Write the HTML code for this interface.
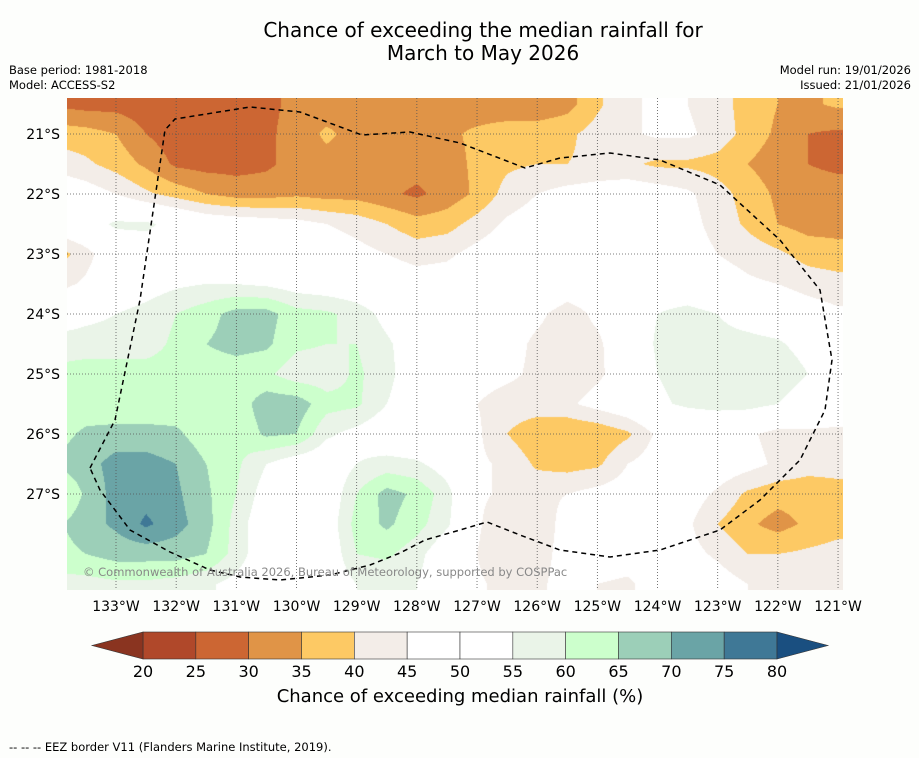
<!DOCTYPE html>
<html><head><meta charset="utf-8">
<style>
html,body{margin:0;padding:0;background:#fdfefc;}
body{width:919px;height:758px;position:relative;overflow:hidden;font-family:"DejaVu Sans","Liberation Sans",sans-serif;color:#000;}
.t{position:absolute;white-space:nowrap;}
</style></head>
<body>
<div class="t" style="left:0;width:966px;top:19px;text-align:center;font-size:20px;line-height:23px;">Chance of exceeding the median rainfall for<br>March to May 2026</div>
<div class="t" style="left:9px;top:63px;font-size:11.5px;line-height:15px;">Base period: 1981-2018<br>Model: ACCESS-S2</div>
<div class="t" style="right:8px;top:63px;font-size:11.5px;line-height:15px;text-align:right;">Model run: 19/01/2026<br>Issued: 21/01/2026</div>
<canvas id="map" width="776" height="492" style="position:absolute;left:67px;top:98px;"></canvas>
<svg id="ov" width="919" height="758" style="position:absolute;left:0;top:0;"></svg>
<div class="t" style="left:83px;top:565px;font-size:11.5px;color:#888;">© Commonwealth of Australia 2026, Bureau of Meteorology, supported by COSPPac</div>
<div class="t" style="left:0;width:920px;top:686px;text-align:center;font-size:18px;">Chance of exceeding median rainfall (%)</div>
<div class="t" style="left:9px;top:740px;font-size:11.5px;">--  --  -- EEZ border V11 (Flanders Marine Institute, 2019).</div>
<script>
const levels=[20,25,30,35,40,45,50,55,60,65,70,75,80];
const binColors=["#b0482a","#cc6633","#e09447","#fdc964","#f3ede8","#ffffff","#ffffff","#eaf4e8","#ccffcc","#9ccfb8","#6aa4a6","#3f7896"];
const underColor="#8a3420", overColor="#1a4f80";
const lonTicks=[133,132,131,130,129,128,127,126,125,124,123,122,121];
const latTicks=[21,22,23,24,25,26,27];
// grid: lon 134W..121W step 0.5 ; lat 20.5S..28.5S step 0.5
const gridLons=[134,133.5,133,132.5,132,131.5,131,130.5,130,129.5,129,128.5,128,127.5,127,126.5,126,125.5,125,124.5,124,123.5,123,122.5,122,121.5,121];
const gridLats=[20.5,21,21.5,22,22.5,23,23.5,24,24.5,25,25.5,26,26.5,27,27.5,28,28.5];
const r205=[29,28,28,27,26,26,27,29,31,32,33,33,33,33,32,31,31,33,39,44,46,45,42,38,35,34,36];
const r21=[38,37,35,30,27,26,27,29,32,36,33,33,33,34,36,38,38,39,42,44,46,46,43,38,34,30,29];
const r215=[43,41,38,34,29,28,28,29,32,33,33,33,32,33,36,39,40,40,41,41,39,39,38,35,32,30,29];
const r22=[50,48,45,41,38,35,33,33,34,33,33,31,29,32,36,42,45,47,48,49,48,46,42,38,34,32,32];
const r225=[50,52,56,56,53,50,49,48,47,45,43,40,37,38,42,46,48,49,50,50,49,47,43,39,35,33,33];
const r23=[37,43,50,52,53,52,51,50,50,49,47,45,43,44,47,49,50,50,50,50,50,48,45,43,41,38,37];
const r235=[43,46,50,52,54,55,55,54,52,51,50,49,48,48,49,50,50,48,48,50,51,50,48,46,45,43,42];
const r24=[50,53,55,57,60,63,67,67,62,61,58,53,50,49,49,48,46,43,46,50,55,57,55,52,50,48,46];
const r245=[58,58,58,58,61,65,67,66,61,60,60,56,51,49,48,47,44,43,44,49,56,57,57,57,56,52,50];
const r25=[61,62,62,62,62,62,62,61,57,57,61,57,50,48,47,46,44,42,44,48,55,57,57,58,60,55,50];
const r255=[62,62,61,61,62,62,62,68,68,62,61,55,50,47,45,43,43,44,47,50,54,56,57,57,55,50,48];
const r26=[63,66,67,67,66,62,61,66,65,56,53,50,49,48,46,40,36,35,36,39,46,48,48,46,43,44,44];
const r265=[66,68,72,72,70,65,61,55,51,50,55,57,56,52,46,44,39,38,39,45,48,50,49,47,44,42,42];
const r27=[58,66,72,73,71,66,60,52,49,50,60,67,64,57,46,44,44,45,47,48,49,48,44,39,37,37,38];
const r275=[64,68,71,76,72,67,58,50,49,51,62,66,62,56,46,40,42,47,50,50,50,46,40,36,33,36,38];
const r28=[63,65,67,67,67,65,58,50,48,50,60,61,57,50,45,40,43,47,49,48,49,47,44,40,40,41,42];
const r285=[58,58,59,59,58,56,53,50,45,50,55,56,55,50,46,43,44,47,45,44,48,50,48,45,43,43,44];
const grid=[r205,r21,r215,r22,r225,r23,r235,r24,r245,r25,r255,r26,r265,r27,r275,r28,r285];

// axis functions
const X0=116, DX=60.17, Y0=134, DY=60;
const xOf=lon=>X0+(133-lon)*DX;
const yOf=lat=>Y0+(lat-21)*DY;
function colorFor(v){
  if(v<levels[0])return underColor;
  for(let i=0;i<levels.length-1;i++) if(v<levels[i+1]) return binColors[i];
  return overColor;
}
function hex(c){return [parseInt(c.slice(1,3),16),parseInt(c.slice(3,5),16),parseInt(c.slice(5,7),16)];}

(function(){
  const cv=document.getElementById('map'),ctx=cv.getContext('2d');
  const W=cv.width,H=cv.height,img=ctx.createImageData(W,H);
  const lonStep=gridLons[0]-gridLons[1], latStep=gridLats[1]-gridLats[0];
  for(let py=0;py<H;py++){
    const lat=21+((py+98+0.5)-Y0)/DY;
    let gy=(lat-gridLats[0])/latStep; gy=Math.max(0,Math.min(gridLats.length-1.0001,gy));
    const j=Math.floor(gy),fy=gy-j;
    for(let px=0;px<W;px++){
      const lon=133-((px+67+0.5)-X0)/DX;
      let gx=(gridLons[0]-lon)/lonStep; gx=Math.max(0,Math.min(gridLons.length-1.0001,gx));
      const i=Math.floor(gx),fx=gx-i;
      const v=grid[j][i]*(1-fx)*(1-fy)+grid[j][i+1]*fx*(1-fy)+grid[j+1][i]*(1-fx)*fy+grid[j+1][i+1]*fx*fy;
      const c=hex(colorFor(v)),k=(py*W+px)*4;
      img.data[k]=c[0];img.data[k+1]=c[1];img.data[k+2]=c[2];img.data[k+3]=255;
    }
  }
  ctx.putImageData(img,0,0);
})();

(function(){
  const ns="http://www.w3.org/2000/svg",svg=document.getElementById('ov');
  const FF='DejaVu Sans, Liberation Sans, sans-serif';
  function mk(tag,attrs,parent){const e=document.createElementNS(ns,tag);for(const k in attrs)e.setAttribute(k,attrs[k]);(parent||svg).appendChild(e);return e;}
  const gl=mk('g',{});
  
  
  lonTicks.forEach(l=>{
    const x=xOf(l);
    const ln=mk('line',{x1:x,x2:x,y1:98,y2:590,stroke:'#555','stroke-width':0.8,'stroke-dasharray':'1,2'},gl);
    
    
    const t=mk('text',{x:x,y:611,'font-size':14,'text-anchor':'middle','font-family':FF});
    t.textContent=l+'°W';
    
    
  });
  latTicks.forEach(l=>{
    const y=yOf(l);
    const ln=mk('line',{x1:67,x2:843,y1:y,y2:y,stroke:'#555','stroke-width':0.8,'stroke-dasharray':'1,2'},gl);
    
    
    const t=mk('text',{x:60,y:y+5,'font-size':14,'text-anchor':'end','font-family':FF});
    t.textContent=l+'°S';
    
    
  });
  const eez=mk('path',{d:'M90,468 L115,420 L140,300 L165,130 L175,119 L250,107 L300,112 L362,135 L410,132 L460,143 L525,168 L560,158 L610,153 L660,160 L720,185 L780,240 L820,290 L832,360 L825,410 L800,460 L760,500 L720,530 L660,550 L610,557 L560,550 L520,535 L487,522 L460,530 L425,540 L400,553 L370,565 L330,575 L280,580 L240,577 L210,570 L170,552 L130,530 L100,490 Z',fill:'none',stroke:'#000','stroke-width':1.5,'stroke-dasharray':'5,4'});
  
  
  const cb=mk('g',{});
  
  
  const cx0=143,cx1=777,cy=632,ch=27,bw=(cx1-cx0)/binColors.length;
  binColors.forEach((c,i)=>{
    const r=mk('rect',{x:cx0+i*bw,y:cy,width:bw,height:ch,fill:c,stroke:'#333','stroke-width':0.6},cb);
    
    
  });
  const lt=mk('polygon',{points:`${cx0},${cy} ${cx0},${cy+ch} 92,${cy+ch/2}`,fill:underColor,stroke:'#333','stroke-width':0.6},cb);
  
  
  const rt=mk('polygon',{points:`${cx1},${cy} ${cx1},${cy+ch} 828,${cy+ch/2}`,fill:overColor,stroke:'#333','stroke-width':0.6},cb);
  
  
  levels.forEach((v,i)=>{
    const t=mk('text',{x:cx0+i*bw,y:677,'font-size':16,'text-anchor':'middle','font-family':FF},cb);
    t.textContent=v;
    
    
  });
})();
</script>
</body></html>
